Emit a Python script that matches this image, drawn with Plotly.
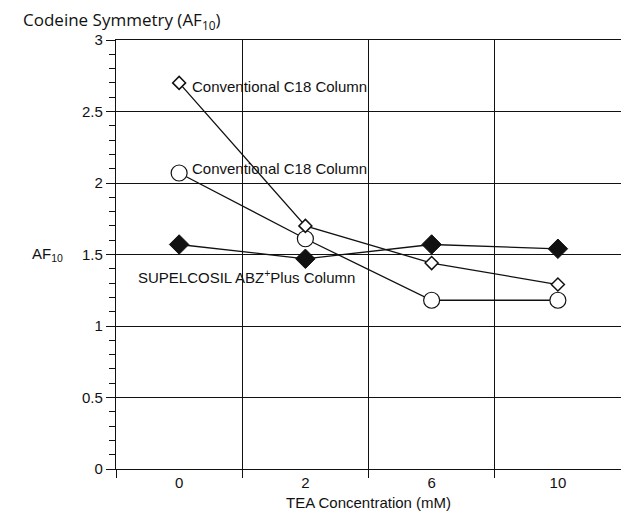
import plotly.graph_objects as go

categories = ["0", "2", "6", "10"]
conv_diamond = [2.70, 1.70, 1.44, 1.29]
conv_circle = [2.07, 1.61, 1.18, 1.18]
abz_plus = [1.57, 1.47, 1.57, 1.54]

x_idx = list(range(len(categories)))
ink = "#111111"
fig = go.Figure()

fig.add_trace(go.Scatter(
    x=x_idx, y=abz_plus, mode="lines+markers",
    line=dict(color=ink, width=1.3),
    marker=dict(symbol="diamond", size=15, color=ink, line=dict(color=ink, width=1)),
))
fig.add_trace(go.Scatter(
    x=x_idx, y=conv_circle, mode="lines+markers",
    line=dict(color=ink, width=1.3),
    marker=dict(symbol="circle", size=16, color="white", line=dict(color=ink, width=1.2)),
))
fig.add_trace(go.Scatter(
    x=x_idx, y=conv_diamond, mode="lines+markers",
    line=dict(color=ink, width=1.3),
    marker=dict(symbol="diamond", size=10, color="white", line=dict(color=ink, width=1.5)),
))

fs = dict(family="Liberation Sans, Arial, sans-serif", size=15, color=ink)

fig.update_layout(
    width=621, height=503,
    margin=dict(l=108, r=8, t=32, b=42, autoexpand=False),
    plot_bgcolor="white", paper_bgcolor="white",
    showlegend=False,
    font=fs,
    xaxis=dict(
        range=[-0.5, 3.5], tickvals=x_idx, ticktext=categories,
        ticks="", showgrid=False, zeroline=False, automargin=False,
        showline=True, linecolor=ink, linewidth=1.2, mirror=True,
        tickfont=fs,
        minor=dict(tickvals=[-0.5, 0.5, 1.5, 2.5, 3.5], ticks="outside", ticklen=8,
                   tickcolor=ink, showgrid=True, gridcolor=ink, gridwidth=1.2),
        fixedrange=True,
    ),
    yaxis=dict(
        range=[0, 3], dtick=0.5, tick0=0, ticks="outside", ticklen=9, tickcolor=ink,
        showgrid=True, gridcolor=ink, gridwidth=1.2, zeroline=False, automargin=False,
        showline=True, linecolor=ink, linewidth=1.2, mirror=True,
        tickfont=fs,
        minor=dict(dtick=0.1, ticks="outside", ticklen=6, tickcolor=ink, showgrid=False),
        fixedrange=True,
    ),
)

fig.add_annotation(text="TEA Concentration (mM)", xref="paper", yref="paper",
                   x=0.5, y=0, yshift=-33, xanchor="center", yanchor="middle", showarrow=False,
                   font=fs)
fig.add_annotation(text="Codeine Symmetry (AF<sub>10</sub>)", xref="paper", yref="paper",
                   x=0, xshift=-95, y=1.0, yshift=20, xanchor="left", yanchor="middle", showarrow=False,
                   font=dict(family="Open Sans, sans-serif", size=17, color=ink))
fig.add_annotation(text="AF<sub>10</sub>", xref="paper", yref="y",
                   x=0, xshift=-86, y=1.5, xanchor="left", yanchor="middle", showarrow=False,
                   font=fs)
fig.add_annotation(text="Conventional C18 Column", x=0, y=conv_diamond[0], xref="x", yref="y",
                   xanchor="left", yanchor="middle", xshift=11, yshift=-4, showarrow=False, font=fs)
fig.add_annotation(text="Conventional C18 Column", x=0, y=conv_circle[0], xref="x", yref="y",
                   xanchor="left", yanchor="middle", xshift=11, yshift=4, showarrow=False, font=fs)
fig.add_annotation(text="SUPELCOSIL ABZ<sup>+</sup>Plus Column", x=0, y=abz_plus[0], xref="x", yref="y",
                   xanchor="left", yanchor="middle", xshift=-43, yshift=-32, showarrow=False, font=fs)

fig.write_html("out.html")
